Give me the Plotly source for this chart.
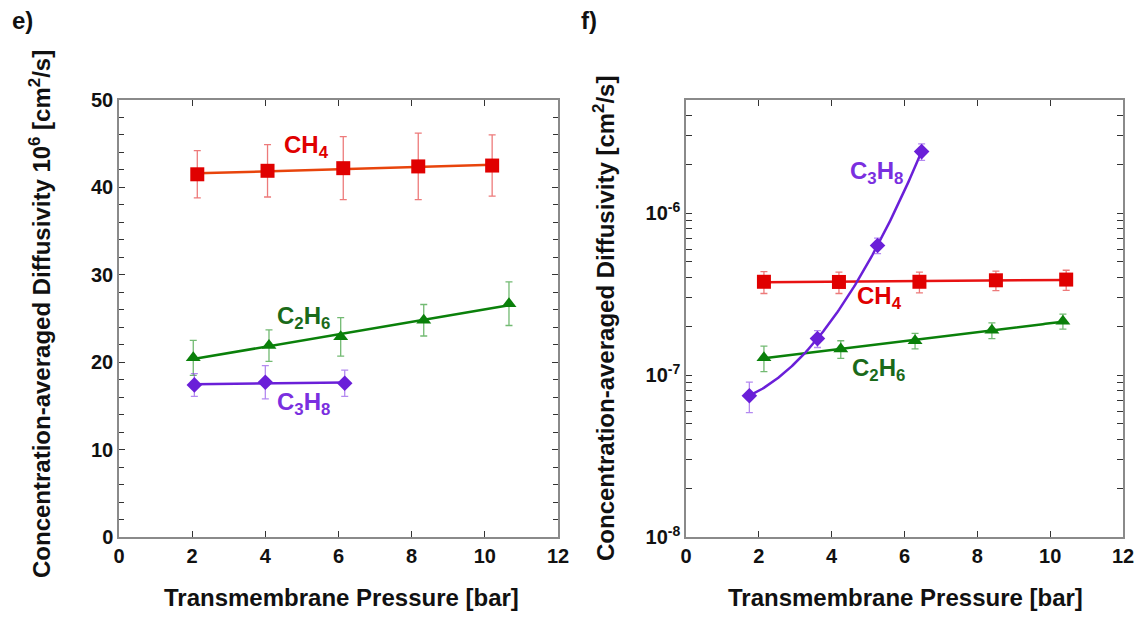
import numpy as np
import plotly.graph_objects as go

# ---- panel e): concentration-averaged diffusivity x 1e6 [cm2/s] ----
p_ch4_e = [2.14, 4.06, 6.13, 8.18, 10.20]
d_ch4_e = [41.5, 41.9, 42.2, 42.4, 42.5]
err_ch4_e = [2.7, 3.0, 3.6, 3.8, 3.5]

p_c2h6_e = [2.03, 4.10, 6.06, 8.33, 10.66]
d_c2h6_e = [20.5, 21.9, 22.9, 24.8, 26.7]
err_c2h6_e = [2.0, 1.8, 2.2, 1.8, 2.5]

p_c3h8_e = [2.06, 4.00, 6.17]
d_c3h8_e = [17.4, 17.7, 17.6]
err_c3h8_e = [1.3, 1.9, 1.5]

# ---- panel f): concentration-averaged diffusivity [cm2/s], log scale ----
p_ch4_f = [2.14, 4.20, 6.41, 8.51, 10.44]
d_ch4_f = [3.77e-7, 3.76e-7, 3.77e-7, 3.85e-7, 3.89e-7]
err_ch4_f = [0.58e-7, 0.57e-7, 0.55e-7, 0.53e-7, 0.55e-7]

p_c2h6_f = [2.14, 4.25, 6.29, 8.40, 10.35]
d_c2h6_f = [1.28e-7, 1.45e-7, 1.63e-7, 1.89e-7, 2.15e-7]
err_c2h6_f = [0.23e-7, 0.18e-7, 0.18e-7, 0.21e-7, 0.23e-7]

p_c3h8_f = [1.74, 3.61, 5.26, 6.47]
d_c3h8_f = [7.46e-8, 1.68e-7, 6.32e-7, 2.40e-6]
err_c3h8_f = [1.6e-8, 0.20e-7, 0.70e-7, 0.28e-6]

x_ticks = [0, 2, 4, 6, 8, 10, 12]
log_decades = [1e-8, 1e-7, 1e-6]
log_decade_labels = ["10<sup>-8</sup>", "10<sup>-7</sup>", "10<sup>-6</sup>"]

FONT = "Arial, 'Liberation Sans', sans-serif"
RED, RED_LINE, RED_ERR = "#e00000", "#e8440c", "rgba(228,50,50,0.65)"
GREEN, GREEN_ERR, GREEN_TXT = "#0a800a", "rgba(20,140,20,0.6)", "#1a6a1a"
PURPLE, PURPLE_ERR, PURPLE_TXT = "#6a1fd8", "rgba(130,60,230,0.6)", "#7a2fe0"


def fit_line(px, py, deg=1, log=False):
    """Least-squares trend through the measured points."""
    px = np.asarray(px, float)
    py = np.asarray(py, float)
    yy = np.log10(py) if log else py
    coef = np.polyfit(px, yy, deg)
    xs = np.linspace(px.min(), px.max(), 120)
    ys = np.polyval(coef, xs)
    return xs, (10 ** ys if log else ys)


fig = go.Figure()


def add_series(px, py, err, color, line_color, err_color, symbol, size,
               xa, ya, deg=1, log=False):
    xs, ys = fit_line(px, py, deg, log)
    fig.add_trace(go.Scatter(x=xs, y=ys, mode="lines", xaxis=xa, yaxis=ya,
                             line=dict(color=line_color, width=2.5),
                             hoverinfo="skip", showlegend=False))
    fig.add_trace(go.Scatter(x=px, y=py, mode="markers", xaxis=xa, yaxis=ya,
                             marker=dict(symbol=symbol, size=size, color=color),
                             error_y=dict(type="data", array=err, visible=True,
                                          color=err_color, thickness=1.3, width=3.5),
                             showlegend=False))


# panel e
add_series(p_ch4_e, d_ch4_e, err_ch4_e, RED, RED_LINE, RED_ERR, "square", 14, "x", "y")
add_series(p_c2h6_e, d_c2h6_e, err_c2h6_e, GREEN, GREEN, GREEN_ERR, "triangle-up", 13, "x", "y")
add_series(p_c3h8_e, d_c3h8_e, err_c3h8_e, PURPLE, PURPLE, PURPLE_ERR, "diamond", 12, "x", "y")

# panel f
add_series(p_ch4_f, d_ch4_f, err_ch4_f, RED, "#e81212", RED_ERR, "square", 14, "x2", "y2", log=True)
add_series(p_c2h6_f, d_c2h6_f, err_c2h6_f, GREEN, GREEN, GREEN_ERR, "triangle-up", 13, "x2", "y2", log=True)
add_series(p_c3h8_f, d_c3h8_f, err_c3h8_f, PURPLE, PURPLE, PURPLE_ERR, "diamond", 12, "x2", "y2", deg=2, log=True)

axis_common = dict(
    showgrid=False, zeroline=False, showline=True, linecolor="#8a8a8a", linewidth=1.5,
    mirror="allticks", ticks="inside", ticklen=6, tickwidth=1, tickcolor="#333333",
    automargin=False,
    tickfont=dict(family=FONT, size=20, color="#111111", weight="bold"),
)

xdom_e = [119 / 1140, 558 / 1140]
xdom_f = [686 / 1140, 1123 / 1140]
ydom = [1 - 537 / 617, 1 - 100 / 617]

# log-axis ticks: every integer multiple within each decade, labels on decades only
log_tickvals, log_ticktext = [], []
for dec, lab in zip(log_decades, log_decade_labels):
    for k in range(1, 10):
        v = dec * k
        if v <= 5.0001e-6:
            log_tickvals.append(v)
            log_ticktext.append(lab if k == 1 else "")

fig.update_layout(
    template="none",
    width=1140, height=617, margin=dict(l=0, r=0, t=0, b=0, pad=0, autoexpand=False),
    paper_bgcolor="white", plot_bgcolor="white", showlegend=False,
    xaxis=dict(axis_common, domain=xdom_e, range=[0, 12], tickvals=x_ticks, anchor="y"),
    yaxis=dict(axis_common, domain=ydom, range=[0, 50], dtick=10, anchor="x",
               minor=dict(dtick=2, ticks="inside", ticklen=5, tickcolor="#333333")),
    xaxis2=dict(axis_common, domain=xdom_f, range=[0, 12], tickvals=x_ticks, anchor="y2"),
    yaxis2=dict(axis_common, domain=ydom, type="log", range=[-8, np.log10(5e-6)],
                tickvals=log_tickvals, ticktext=log_ticktext, anchor="x2"),
)

title_font = dict(family=FONT, size=24, color="#111111", weight="bold")
label_font = dict(family=FONT, size=24, weight="bold")


def paper_note(text, x, y, **kw):
    return dict(text=text, x=x / 1140, y=1 - y / 617, xref="paper", yref="paper",
                xanchor="center", yanchor="middle", showarrow=False, **kw)


def data_note(text, x, y, xa, ya, color):
    return dict(text=text, x=x, y=y, xref=xa, yref=ya, xanchor="center",
                yanchor="middle", showarrow=False, font=dict(label_font, color=color))


annotations = [
    # panel letters
    paper_note("e)", 22, 20, font=title_font),
    paper_note("f)", 589, 20, font=title_font),
    # axis titles
    paper_note("Transmembrane Pressure [bar]", 341, 597, font=title_font),
    paper_note("Transmembrane Pressure [bar]", 905, 597, font=title_font),
    paper_note("Concentration-averaged Diffusivity 10<sup>6</sup> [cm<sup>2</sup>/s]",
               40, 314, textangle=-90, font=title_font),
    paper_note("Concentration-averaged Diffusivity [cm<sup>2</sup>/s]",
               604, 319, textangle=-90, font=title_font),
    # species labels, panel e
    data_note("CH<sub>4</sub>", 5.13, 44.7, "x", "y", RED),
    data_note("C<sub>2</sub>H<sub>6</sub>", 5.03, 25.1, "x", "y", GREEN_TXT),
    data_note("C<sub>3</sub>H<sub>8</sub>", 5.03, 15.3, "x", "y", PURPLE_TXT),
    # species labels, panel f (log axis: y given as log10)
    data_note("C<sub>3</sub>H<sub>8</sub>", 5.24, np.log10(1.78e-6), "x2", "y2", PURPLE_TXT),
    data_note("CH<sub>4</sub>", 5.30, np.log10(3.0e-7), "x2", "y2", RED),
    data_note("C<sub>2</sub>H<sub>6</sub>", 5.28, np.log10(1.08e-7), "x2", "y2", GREEN_TXT),
]
fig.update_layout(annotations=annotations)

fig.write_html("out.html")
